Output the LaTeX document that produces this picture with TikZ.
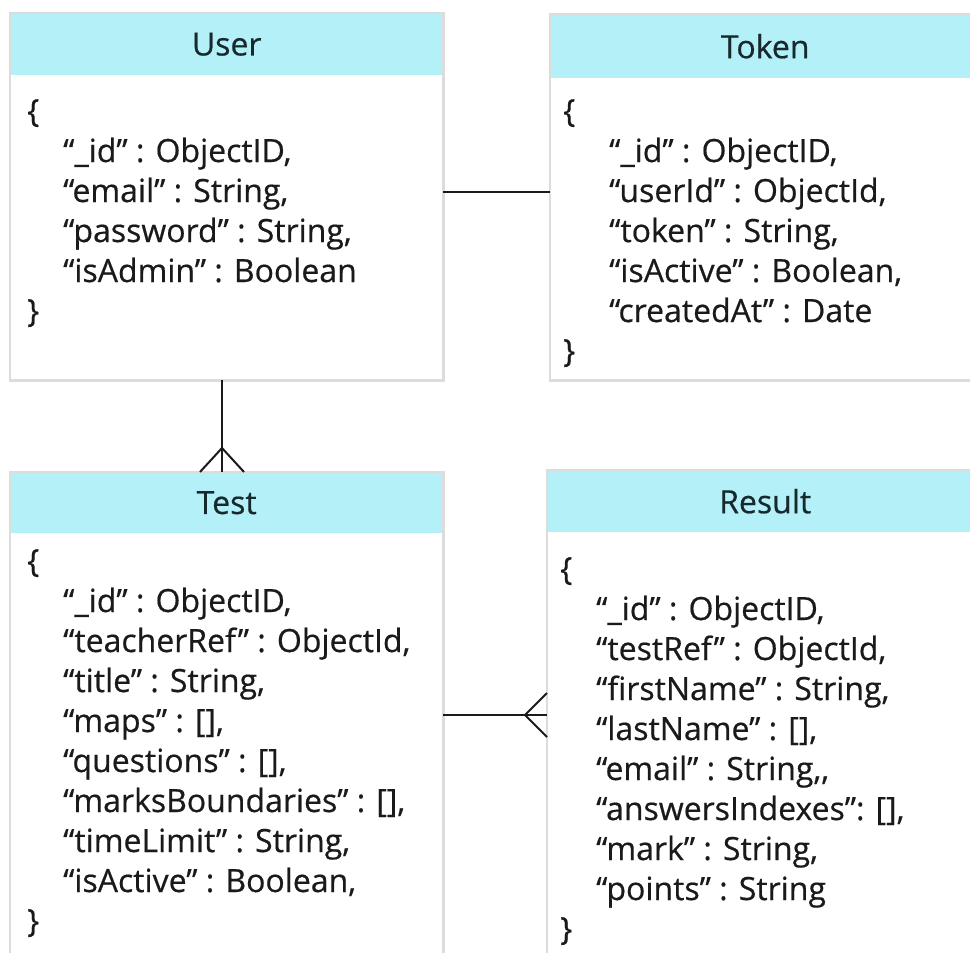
\documentclass[tikz,border=0pt]{standalone}
\usepackage{fontspec}
\setmainfont{Open Sans}
\newfontfamily\bodyfont[FakeBold=0.5]{Open Sans}
\definecolor{hdr}{HTML}{B3F0F8}
\definecolor{edgegray}{HTML}{DCDCDC}
\definecolor{ink}{HTML}{1A1A1A}
\definecolor{titleink}{HTML}{17292C}
\newcommand{\ind}{\hspace*{36pt}}
\newcommand{\indt}{\hspace*{46pt}}
\begin{document}
\begin{tikzpicture}[x=1pt,y=-1pt,
  box/.style={fill=white, inner sep=0pt, anchor=north west},
  hdrbox/.style={fill=hdr, inner sep=0pt, anchor=north west, text=titleink,
                 font=\bodyfont\fontsize{32}{36}\selectfont},
  body/.style={anchor=base west, inner sep=0pt, text=ink,
               font=\bodyfont\fontsize{32}{40}\selectfont},
  frame/.style={draw=edgegray, line width=2.5pt},
  link/.style={draw=ink, line width=2pt}]
\useasboundingbox (0,0) rectangle (970,953);
\fill[white] (0,0) rectangle (970,953);
\begin{scope}
\clip (0,0) rectangle (970,953);
% User
\node[box, minimum width=433pt, minimum height=367pt] (user) at (10,13) {};
\node[hdrbox, minimum width=433pt, minimum height=62pt] (userhdr) at (10,13) {User};
\draw[frame] (user.north west) rectangle (user.south east);
\node[body] (userbody) at (27,122) {\begin{tabular}[t]{@{}l@{}}
\{\\
\ind“\_id” : ObjectID,\\
\ind“email” : String,\\
\ind“password” : String,\\
\ind“isAdmin” : Boolean\\
\}
\end{tabular}};
% Token
\node[box, minimum width=430pt, minimum height=366pt] (token) at (550,14) {};
\node[hdrbox, minimum width=430pt, minimum height=64pt] (tokenhdr) at (550,14) {Token};
\draw[frame] (token.north west) rectangle (token.south east);
\node[body] (tokenbody) at (563,122) {\begin{tabular}[t]{@{}l@{}}
\{\\
\indt“\_id” : ObjectID,\\
\indt“userId” : ObjectId,\\
\indt“token” : String,\\
\indt“isActive” : Boolean,\\
\indt“createdAt” : Date\\
\}
\end{tabular}};
% Test
\node[box, minimum width=433pt, minimum height=540pt] (test) at (10,472) {};
\node[hdrbox, minimum width=433pt, minimum height=61pt] (testhdr) at (10,472) {Test};
\draw[frame] (test.north west) rectangle (test.south east);
\node[body] (testbody) at (27,572) {\begin{tabular}[t]{@{}l@{}}
\{\\
\ind“\_id” : ObjectID,\\
\ind“teacherRef” : ObjectId,\\
\ind“title” : String,\\
\ind“maps” : [],\\
\ind“questions” : [],\\
\ind“marksBoundaries” : [],\\
\ind“timeLimit” : String,\\
\ind“isActive” : Boolean,\\
\}
\end{tabular}};
% Result
\node[box, minimum width=436pt, minimum height=540pt] (result) at (547,470) {};
\node[hdrbox, minimum width=436pt, minimum height=62pt] (resulthdr) at (547,470) {Result};
\draw[frame] (result.north west) rectangle (result.south east);
\node[body] (resultbody) at (560,580) {\begin{tabular}[t]{@{}l@{}}
\{\\
\ind“\_id” : ObjectID,\\
\ind“testRef” : ObjectId,\\
\ind“firstName” : String,\\
\ind“lastName” : [],\\
\ind“email” : String{,}{,}\\
\ind“answersIndexes”: [],\\
\ind“mark” : String,\\
\ind“points” : String\\
\}
\end{tabular}};
\end{scope}
% connectors
\draw[link] (user.east |- 0,192) -- (token.west |- 0,192);
\draw[link] (user.south -| 222,0) -- (test.north -| 222,0);
\coordinate (tf) at (222,448);
\draw[link] (tf) -- (test.north -| 200,0);
\draw[link] (tf) -- (test.north -| 244,0);
\draw[link] (test.east |- 0,715) -- (result.west |- 0,715);
\coordinate (rf) at (525,715);
\draw[link] (rf) -- (result.west |- 0,693);
\draw[link] (rf) -- (result.west |- 0,737);
\end{tikzpicture}
\end{document}
